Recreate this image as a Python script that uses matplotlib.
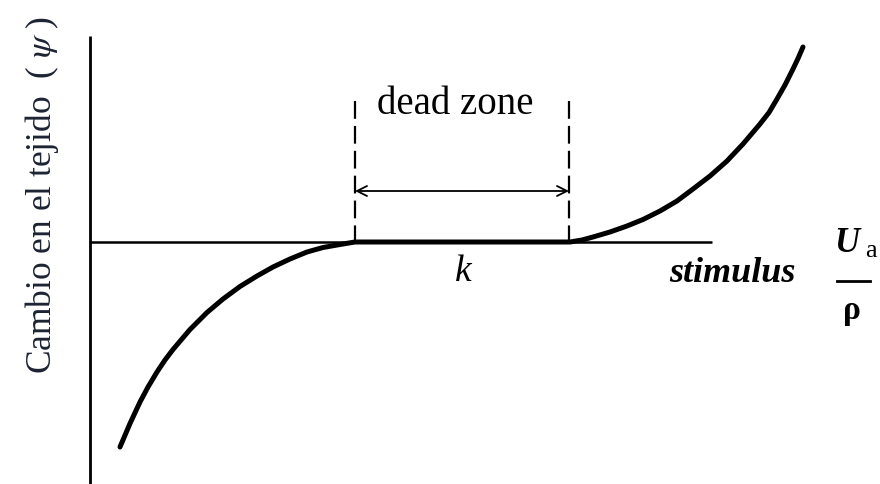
import matplotlib
matplotlib.use("Agg")
import matplotlib.pyplot as plt

plt.rcParams['mathtext.fontset'] = 'stix'

# Response curve (stimulus, change) - left branch, dead zone, right branch
left_x = [0.6, 0.8, 1.0, 1.16, 1.34, 1.5, 1.66, 2.0, 2.34, 2.66, 3.0, 3.34, 3.66,
          4.0, 4.34, 4.66, 5.0, 5.3]
left_y = [-4.10, -3.63, -3.20, -2.90, -2.60, -2.36, -2.15, -1.75, -1.41, -1.14, -0.89,
          -0.68, -0.50, -0.34, -0.20, -0.11, -0.05, 0.0]
flat_x = [5.3, 9.6]
flat_y = [0.0, 0.0]
right_x = [9.6, 9.84, 10.06, 10.4, 10.74, 11.06, 11.4, 11.74, 12.06, 12.4, 12.74,
           13.06, 13.4, 13.58, 13.74, 13.9, 14.06, 14.16, 14.26]
right_y = [0.0, 0.04, 0.10, 0.20, 0.32, 0.45, 0.62, 0.82, 1.06, 1.32, 1.62,
           1.96, 2.36, 2.59, 2.86, 3.14, 3.46, 3.67, 3.90]

dead_zone = [5.3, 9.58]
x_axis_end = 12.44
y_axis_range = [-4.9, 4.12]

fig = plt.figure(figsize=(8.8, 4.85), dpi=100)
ax = fig.add_axes([0, 0, 1, 1])
ax.set_xlim(-1.8, 15.8)
ax.set_ylim(-4.84, 4.86)
ax.axis('off')

serif = ['Liberation Serif', 'DejaVu Serif']

# axes lines
ax.plot([0, x_axis_end], [0, 0], color='black', lw=1.8, solid_capstyle='butt')
ax.plot([0, 0], y_axis_range, color='black', lw=2.0, solid_capstyle='butt')

# curve
cx = left_x + flat_x[1:] + right_x[1:]
cy = left_y + flat_y[1:] + right_y[1:]
ax.plot(cx, cy, color='black', lw=3.6, solid_capstyle='round', solid_joinstyle='round')

# dashed lines for dead zone
for xd in dead_zone:
    ax.plot([xd, xd], [2.82, -0.1], color='black', lw=1.6, linestyle=(0, (8.0, 3.2)))

# double arrow
ax.annotate('', xy=(dead_zone[0], 1.02), xytext=(dead_zone[1], 1.02),
            arrowprops=dict(arrowstyle='<->', lw=1.3, color='black',
                            shrinkA=0, shrinkB=0, mutation_scale=18))

# texts
ax.text(7.3, 2.76, 'dead zone', family=serif, fontsize=28, ha='center', va='center')
ax.text(7.46, -0.58, 'k', family=serif, fontsize=27, style='italic', ha='center', va='center')
ax.text(12.84, -0.62, 'stimulus', family=serif, fontsize=26, style='italic',
        weight='bold', ha='center', va='center')
ax.text(15.13, -0.02, 'U', family=serif, fontsize=25, style='italic',
        weight='bold', ha='center', va='center')
ax.text(15.62, -0.16, 'a', family=serif, fontsize=19, ha='center', va='center')
ax.plot([14.94, 15.6], [-0.78, -0.78], color='black', lw=2.0)
ax.text(15.24, -1.36, 'ρ', family=serif, fontsize=24, weight='bold', ha='center', va='center')

ax.text(-0.96, 0.96, 'Cambio en el tejido  ( $\\psi$ )', family=serif, fontsize=25.5,
        rotation=90, ha='center', va='center', color='#1c2333')

fig.savefig('out.png', dpi=100)
